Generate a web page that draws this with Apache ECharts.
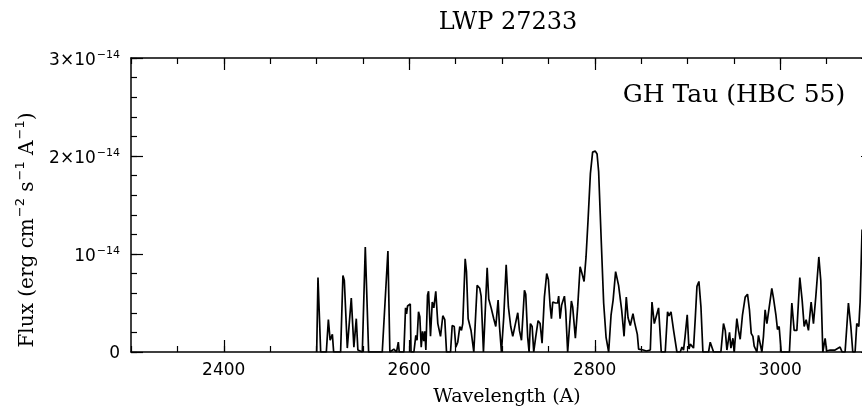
<!DOCTYPE html>
<html>
<head>
<meta charset="utf-8">
<script src="https://cdn.jsdelivr.net/npm/echarts@6/dist/echarts.min.js"></script>
<style>html,body{margin:0;padding:0;background:#fff}#c{width:862px;height:410px}</style>
</head>
<body>
<div id="c"></div>
<script>
// Wavelength (A)
const wavelengths = [
2500.2,2501.6,2504.5,2510.6,2512.8,2514.7,2517.1,2518.5,2526.0,2528.5,
2530.0,2533.2,2537.5,2540.3,2542.9,2544.6,2549.4,2552.6,2556.2,2570.9,
2577.0,2579.1,2583.4,2586.3,2588.2,2589.2,2594.2,2596.0,2597.1,2598.2,
2599.6,2601.1,2601.9,2605.0,2607.1,2608.4,2610.0,2611.4,2612.9,2614.3,
2615.7,2616.8,2617.9,2619.7,2620.8,2622.9,2624.8,2626.5,2628.6,2630.8,
2633.7,2636.2,2638.3,2640.2,2644.5,2646.3,2648.5,2650.2,2652.3,2654.5,
2656.3,2657.7,2660.3,2661.7,2663.5,2664.9,2666.6,2669.6,2673.2,2676.0,
2677.5,2680.0,2684.0,2685.7,2688.3,2691.1,2693.3,2695.8,2697.3,2699.4,
2701.9,2704.5,2706.9,2709.4,2711.6,2714.5,2717.0,2718.8,2721.0,2724.2,
2725.6,2727.7,2729.2,2730.6,2732.5,2734.2,2736.3,2738.9,2741.1,2743.2,
2745.7,2748.2,2750.0,2751.9,2753.3,2754.7,2757.6,2760.0,2761.1,2762.6,
2764.3,2767.3,2768.7,2770.8,2772.3,2774.8,2776.2,2779.1,2781.6,2784.2,
2786.3,2788.5,2790.6,2792.8,2795.3,2797.7,2799.2,2800.6,2802.5,2804.2,
2807.1,2809.6,2812.2,2815.0,2817.6,2819.8,2822.5,2825.7,2829.0,2831.6,
2834.0,2835.9,2838.3,2841.2,2843.0,2844.8,2845.9,2847.3,2849.1,2852.3,
2855.6,2859.9,2861.7,2864.2,2866.3,2868.8,2870.6,2871.7,2876.0,2878.5,
2880.0,2882.2,2885.0,2888.6,2892.2,2894.0,2895.7,2897.3,2899.7,2901.6,
2903.0,2905.1,2906.5,2908.3,2910.2,2912.3,2914.5,2916.6,2922.7,2924.5,
2926.3,2928.1,2936.0,2938.8,2940.7,2942.5,2945.3,2946.8,2949.0,2950.3,
2953.2,2955.0,2956.8,2959.3,2962.2,2964.7,2966.8,2968.7,2970.5,2971.9,
2974.8,2976.5,2978.3,2980.2,2981.9,2983.7,2985.6,2987.7,2990.9,2992.7,
2995.3,2997.0,2998.8,3001.0,3009.9,3012.5,3015.0,3017.9,3021.1,3023.6,
3025.8,3027.9,3030.4,3033.3,3035.8,3038.3,3041.6,3043.7,3045.9,3048.4,
3050.0,3053.8,3059.1,3064.5,3066.7,3069.9,3073.5,3076.1,3078.2,3080.7,
3082.5,3084.7,3086.1,3088.2
];
// Flux in units of 1e-14 erg cm^-2 s^-1 A^-1
const fluxes = [
0,0.76,0,0,0.33,0.12,0.18,0,0,0.78,
0.73,0.04,0.55,0.05,0.34,0.02,0,1.07,0,0,
1.03,0,0.03,0,0.10,0,0,0.45,0.39,0.47,
0.46,0.49,0,0,0.17,0.12,0.41,0.36,0.05,0.21,
0.11,0.21,0.02,0.58,0.62,0.16,0.51,0.45,0.62,0.29,
0.16,0.37,0.33,0,0,0.27,0.26,0.05,0.10,0.26,
0.22,0.29,0.95,0.82,0.34,0.32,0.22,0,0.68,0.65,
0.57,0,0.86,0.54,0.45,0.34,0.26,0.53,0.26,0,
0.36,0.89,0.46,0.26,0.16,0.29,0.40,0.22,0.12,0.63,
0.59,0.15,0,0.29,0.26,0,0.15,0.32,0.29,0.09,
0.56,0.80,0.74,0.47,0.34,0.51,0.50,0.50,0.57,0.34,
0.48,0.57,0.42,0,0,0.52,0.46,0.14,0.46,0.87,
0.80,0.72,0.97,1.35,1.82,2.04,2.05,2.05,2.02,1.84,
1.11,0.50,0.15,0,0.38,0.53,0.82,0.68,0.43,0.16,
0.56,0.35,0.27,0.39,0.30,0.29,0.18,0.03,0.01,0.02,
0.01,0.02,0.51,0.29,0.27,0.45,0.43,0,0,0.41,
0.37,0.41,0.22,0,0,0.05,0.02,0.15,0.38,0.03,
0.08,0.08,0.04,0.33,0.67,0.72,0.46,0,0,0.10,
0.10,0,0,0.29,0.22,0.02,0.20,0.04,0.14,0,
0.34,0.22,0.13,0.38,0.56,0.59,0.43,0.19,0.16,0.06,
0,0.17,0.19,0,0.16,0.43,0.29,0.43,0.65,0.55,
0.38,0.23,0.26,0,0,0.50,0.22,0.22,0.76,0.53,
0.26,0.33,0.22,0.51,0.29,0.56,0.97,0.73,0,0.14,
0.01,0.02,0.02,0.05,0,0,0.50,0.26,0,0,
0.29,0.26,0.51,1.25
];
const xMajorTicks = [2400, 2600, 2800, 3000];
const yTickValues = [0, 1, 2, 3];
const yTickMantissas = ['0', '', '2×', '3×'];
const yExponent = '−14';
const titleText = 'LWP 27233';
const objectText = 'GH Tau (HBC 55)';
const xName = 'Wavelength (A)';

const n = Math.min(wavelengths.length, fluxes.length);
const seriesData = [];
for (let i = 0; i < n; i++) seriesData.push([wavelengths[i], fluxes[i]]);

const BLACK = '#000';
const SANS = 'DejaVu Sans';
const SERIF = 'DejaVu Serif';
const axisLine = { show: true, onZero: false, lineStyle: { color: BLACK, width: 1.5 } };
const noLine = { show: false, onZero: false };
const gridRect = { left: 131, top: 58, width: 742, height: 294, containLabel: false, outerBoundsMode: 'none' };

function yLabel(v) {
  const i = yTickValues.indexOf(Math.round(v));
  if (i < 0) return '';
  if (i === 0) return '{z|0}';
  return '{b|' + yTickMantissas[i] + '10}{s|' + yExponent + '}';
}

const chart = echarts.init(document.getElementById('c'), null, { renderer: 'canvas' });
chart.setOption({
  animation: false,
  backgroundColor: '#fff',
  grid: [ Object.assign({}, gridRect), Object.assign({}, gridRect) ],
  xAxis: [
    { gridIndex: 0, type: 'value', position: 'bottom', min: 2300, max: 3100,
      axisLine: axisLine, splitLine: { show: false },
      axisTick: { show: true, inside: true, length: 12, customValues: xMajorTicks, lineStyle: { color: BLACK, width: 1.2 } },
      axisLabel: { show: true, customValues: xMajorTicks, margin: 10, color: BLACK, fontSize: 17, fontFamily: SANS,
        formatter: function (v) { return String(v); } } },
    { gridIndex: 0, type: 'value', position: 'top', min: 2300, max: 3100,
      axisLine: axisLine, splitLine: { show: false },
      axisTick: { show: true, inside: true, length: 12, customValues: xMajorTicks, lineStyle: { color: BLACK, width: 1.2 } },
      axisLabel: { show: false } },
    { gridIndex: 1, type: 'value', position: 'bottom', min: 2300, max: 3100, interval: 50,
      axisLine: noLine, splitLine: { show: false },
      axisTick: { show: true, inside: true, length: 6, lineStyle: { color: BLACK, width: 1.2 } },
      axisLabel: { show: false } },
    { gridIndex: 1, type: 'value', position: 'top', min: 2300, max: 3100, interval: 50,
      axisLine: noLine, splitLine: { show: false },
      axisTick: { show: true, inside: true, length: 6, lineStyle: { color: BLACK, width: 1.2 } },
      axisLabel: { show: false } }
  ],
  yAxis: [
    { gridIndex: 0, type: 'value', position: 'left', min: 0, max: 3, interval: 1,
      axisLine: axisLine, splitLine: { show: false },
      axisTick: { show: true, inside: true, length: 12, lineStyle: { color: BLACK, width: 1.2 } },
      axisLabel: { show: true, margin: 11, color: BLACK, formatter: yLabel,
        rich: {
          z: { fontSize: 17, fontFamily: SANS, color: BLACK, padding: [3, 0, 0, 0] },
          b: { fontSize: 17, fontFamily: SANS, color: BLACK, padding: [5, 0, 0, 0] },
          s: { fontSize: 11, fontFamily: SANS, color: BLACK, padding: [0, 0, 5, 1] }
        } } },
    { gridIndex: 0, type: 'value', position: 'right', min: 0, max: 3, interval: 1,
      axisLine: axisLine, splitLine: { show: false },
      axisTick: { show: true, inside: true, length: 12, lineStyle: { color: BLACK, width: 1.2 } },
      axisLabel: { show: false } },
    { gridIndex: 1, type: 'value', position: 'left', min: 0, max: 3, interval: 0.2,
      axisLine: noLine, splitLine: { show: false },
      axisTick: { show: true, inside: true, length: 6, lineStyle: { color: BLACK, width: 1.2 } },
      axisLabel: { show: false } },
    { gridIndex: 1, type: 'value', position: 'right', min: 0, max: 3, interval: 0.2,
      axisLine: noLine, splitLine: { show: false },
      axisTick: { show: true, inside: true, length: 6, lineStyle: { color: BLACK, width: 1.2 } },
      axisLabel: { show: false } }
  ],
  series: [{
    type: 'line', xAxisIndex: 0, yAxisIndex: 0,
    data: seriesData, showSymbol: false, symbol: 'none', smooth: false,
    clip: true,
    lineStyle: { color: BLACK, width: 1.7 },
    emphasis: { disabled: true }
  }],
  graphic: [
    { type: 'text', x: 508, y: 23, silent: true,
      style: { text: titleText, fill: BLACK, fontSize: 24, fontFamily: SERIF, align: 'center', verticalAlign: 'middle' } },
    { type: 'text', x: 734, y: 95, silent: true,
      style: { text: objectText, fill: BLACK, fontSize: 25, fontFamily: SERIF, align: 'center', verticalAlign: 'middle' } },
    { type: 'text', x: 507, y: 397, silent: true,
      style: { text: xName, fill: BLACK, fontSize: 19, fontFamily: SERIF, align: 'center', verticalAlign: 'middle' } },
    { type: 'text', x: 25, y: 230, rotation: Math.PI / 2, silent: true,
      style: {
        text: '{m|Flux (erg cm}{s|−2}{m| s}{s|−1}{m| A}{s|−1}{m|)}',
        align: 'center', verticalAlign: 'middle',
        rich: {
          m: { fontSize: 20, fontFamily: SERIF, fill: BLACK, padding: [6, 0, 0, 0] },
          s: { fontSize: 13, fontFamily: SANS, fill: BLACK, padding: [0, 0, 8, 1] }
        }
      } }
  ]
});
</script>
</body>
</html>
